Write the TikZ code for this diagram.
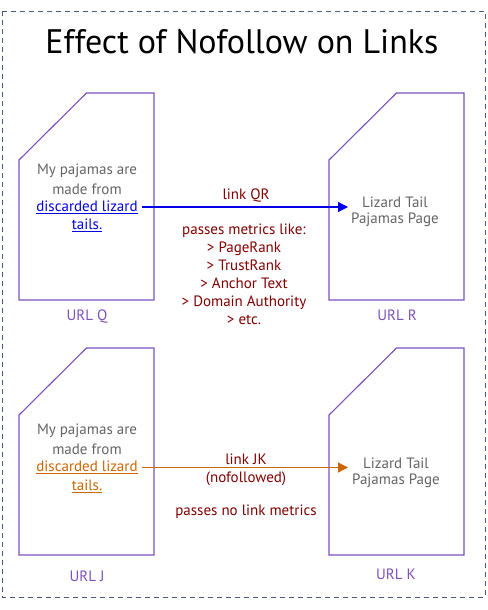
\documentclass[tikz,border=0pt]{standalone}
\usepackage{fontspec}
\setmainfont{PT Sans}
\usetikzlibrary{arrows.meta}
\definecolor{docpurple}{RGB}{123,80,190}
\definecolor{graytxt}{RGB}{100,100,100}
\definecolor{darkred}{RGB}{128,0,0}
\definecolor{linkblue}{RGB}{0,0,230}
\definecolor{linkorange}{RGB}{204,102,0}
\definecolor{borderblue}{RGB}{70,90,130}
\begin{document}
\begin{tikzpicture}[x=1pt,y=-1pt,
  frame/.style={draw=borderblue, line width=0.9pt, dash pattern=on 5pt off 4pt},
  docshape/.style={draw=docpurple, line width=1.1pt},
  gtext/.style={text=graytxt, font=\fontsize{15}{18}\selectfont, inner sep=0pt},
  ltext/.style={font=\fontsize{15}{18}\selectfont, inner sep=0pt},
  metric/.style={text=darkred, font=\fontsize{15}{18}\selectfont, inner sep=0pt, align=center},
  urllabel/.style={text=docpurple, font=\fontsize{15}{18}\selectfont, inner sep=0pt},
  titletext/.style={font=\fontsize{34}{40}\selectfont, inner sep=0pt},
  bluearrow/.style={draw=linkblue, line width=1.1pt, -{Triangle[length=10pt,width=10pt]}, shorten <=4pt},
  orangearrow/.style={draw=linkorange, line width=1.3pt, -{Triangle[length=10pt,width=10pt]}, shorten <=4pt}
]
\useasboundingbox (0,0) rectangle (487,610);
\draw[frame] (2,11) rectangle (485,597);
\node[titletext] (title) at (242,42) {Effect of Nofollow on Links};

% documents
\draw[docshape] (86.5,93) -- (154,93) -- (154,300) -- (19,300) -- (19,160) -- cycle;
\draw[docshape] (396.5,93) -- (464,93) -- (464,300) -- (329,300) -- (329,160) -- cycle;
\draw[docshape] (86.5,348) -- (154,348) -- (154,555) -- (19,555) -- (19,415) -- cycle;
\draw[docshape] (396.5,348) -- (464,348) -- (464,555) -- (329,555) -- (329,415) -- cycle;

% Q text
\node[gtext] (q1) at (87,171) {My pajamas are};
\node[gtext] (q2) at (87,189) {made from};
\node[ltext, text=linkblue] (q3) at (87,207) {\underline{discarded lizard}};
\node[ltext, text=linkblue] (q4) at (87,225) {\underline{tails.}};
\node[urllabel] (urlq) at (87,317) {URL Q};

% R text
\node[gtext] (r1) at (395,202) {Lizard Tail};
\node[gtext] (r2) at (395,220) {Pajamas Page};
\node[urllabel] (urlr) at (397,315) {URL R};
\coordinate (rtip) at (348,207);

\node[metric] (lqr) at (246,196) {link QR};
\node[metric] (mqr) at (244,274) {passes metrics like:\\ > PageRank\\ > TrustRank\\ > Anchor Text\\ > Domain Authority\\ > etc.};
\draw[bluearrow] (q3.east) -- (rtip);

% J text
\node[gtext] (j1) at (87,431) {My pajamas are};
\node[gtext] (j2) at (87,449.5) {made from};
\node[ltext, text=linkorange] (j3) at (87,467.5) {\underline{discarded lizard}};
\node[ltext, text=linkorange] (j4) at (87,486) {\underline{tails.}};
\node[urllabel] (urlj) at (87,576) {URL J};

% K text
\node[gtext] (k1) at (396,463) {Lizard Tail};
\node[gtext] (k2) at (396,481) {Pajamas Page};
\node[urllabel] (urlk) at (396,574) {URL K};
\coordinate (ktip) at (348,467.5);

\node[metric] (ljk) at (246,469.5) {link JK\\ (nofollowed)};
\node[metric] (mjk) at (246,512) {passes no link metrics};
\draw[orangearrow] (j3.east) -- (ktip);
\end{tikzpicture}
\end{document}
